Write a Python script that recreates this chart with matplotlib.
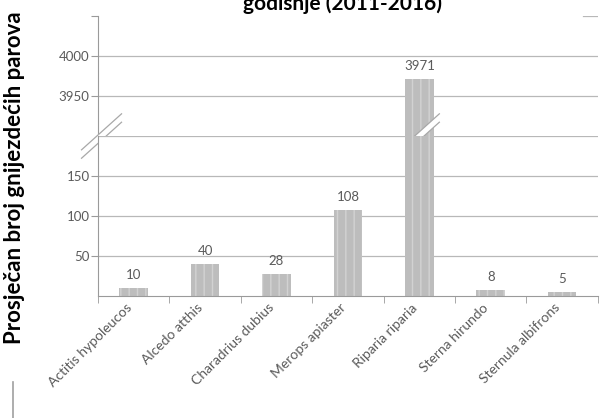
import matplotlib
matplotlib.use("Agg")
import matplotlib.pyplot as plt
import matplotlib.transforms as mtransforms
import numpy as np
from matplotlib.patches import Polygon
from matplotlib.lines import Line2D

# Data
species = ["Actitis hypoleucos", "Alcedo atthis", "Charadrius dubius",
           "Merops apiaster", "Riparia riparia", "Sterna hirundo",
           "Sternula albifrons"]
pairs = [10, 40, 28, 108, 3971, 8, 5]
low_ticks = [50, 100, 150]
high_ticks = [3950, 4000]

plt.rcParams["font.family"] = ["Lato", "DejaVu Sans"]
grey_txt = "#5a5a5a"
grid_c = "#b8b8b8"
bar_c = "#bdbdbd"

fig = plt.figure(figsize=(6.07, 4.18), dpi=100)
ax_top = fig.add_axes([0.1614, 0.6746, 0.8236, 0.2871])
ax_bot = fig.add_axes([0.1614, 0.2919, 0.8236, 0.3828])

x = np.arange(len(species))
for ax in (ax_top, ax_bot):
    ax.bar(x, pairs, width=0.4, color=bar_c, edgecolor="#d2d2d2",
           linewidth=0, hatch="||", zorder=2)
    ax.set_xlim(-0.5, len(species) - 0.5)
    for s in ["top", "right"]:
        ax.spines[s].set_visible(False)
    ax.spines["left"].set_color("#9a9a9a")
    ax.spines["bottom"].set_color("#9a9a9a")
    ax.tick_params(axis="y", colors="#9a9a9a", labelcolor=grey_txt,
                   labelsize=9.5, length=5, width=0.8, pad=1)

ax_top.set_ylim(3900, 4050)
ax_bot.set_ylim(0, 200)

for v in high_ticks:
    ax_top.axhline(v, color=grid_c, lw=0.9, zorder=1)
ax_top.axhline(4050, xmin=0.97, color=grid_c, lw=0.9, zorder=1)
for v in low_ticks + [200]:
    ax_bot.axhline(v, color=grid_c, lw=0.9, zorder=1)

ax_top.set_yticks([4050] + high_ticks)
ax_top.set_yticklabels([""] + [str(t) for t in high_ticks])
ax_bot.set_yticks(low_ticks)
ax_bot.set_yticklabels([str(t) for t in low_ticks])

ax_top.spines["bottom"].set_visible(False)
ax_top.set_xticks([])

# category boundary ticks on the x axis
ax_bot.set_xticks(np.arange(-0.5, len(species), 1.0), minor=True)
ax_bot.tick_params(axis="x", which="minor", length=5, color="#9a9a9a")
ax_bot.set_xticks(x)
ax_bot.tick_params(axis="x", which="major", length=0, pad=5)
ax_bot.set_xticklabels(species, rotation=45, ha="right",
                       rotation_mode="anchor", fontsize=10, color=grey_txt)
shift = mtransforms.ScaledTranslation(-6 / 72, 1 / 72, fig.dpi_scale_trans)
for lab in ax_bot.get_xticklabels():
    lab.set_transform(lab.get_transform() + shift)

# value labels
for xi, v in zip(x, pairs):
    ax = ax_top if v > 200 else ax_bot
    ax.annotate(str(v), (xi, v), xytext=(0, 5), textcoords="offset points",
                ha="center", va="bottom", fontsize=9.5, color=grey_txt)

# break marks
def brk(ax, xc):
    trans = ax.get_xaxis_transform()
    dx, dy = 0.28, 0.15
    w = 0.07
    pts = [(xc - dx, -dy - w / 2), (xc + dx, dy - w / 2),
           (xc + dx, dy + w / 2), (xc - dx, -dy + w / 2)]
    ax.add_patch(Polygon(pts, closed=True, transform=trans, facecolor="white",
                         edgecolor="none", clip_on=False, zorder=5))
    for off in (-w / 2, w / 2):
        ax.add_line(Line2D([xc - dx, xc + dx], [-dy + off, dy + off],
                           transform=trans, color="#a8a8a8", lw=0.9,
                           clip_on=False, zorder=6))

brk(ax_top, -0.45)
brk(ax_top, 4.0)

fig.text(0.565, 0.976, "godišnje (2011-2016)", ha="center", va="baseline",
         fontsize=15, fontweight="bold", color="black")
fig.text(0.024, 0.575, "Prosječan broj gnijezdećih parova", rotation=90,
         ha="center", va="center", fontsize=16, fontweight="bold", color="black")

fig.add_artist(Line2D([0.022, 0.022], [0.0, 0.085], color="#a0a0a0", lw=1.2))

fig.savefig("out.png", dpi=100)
